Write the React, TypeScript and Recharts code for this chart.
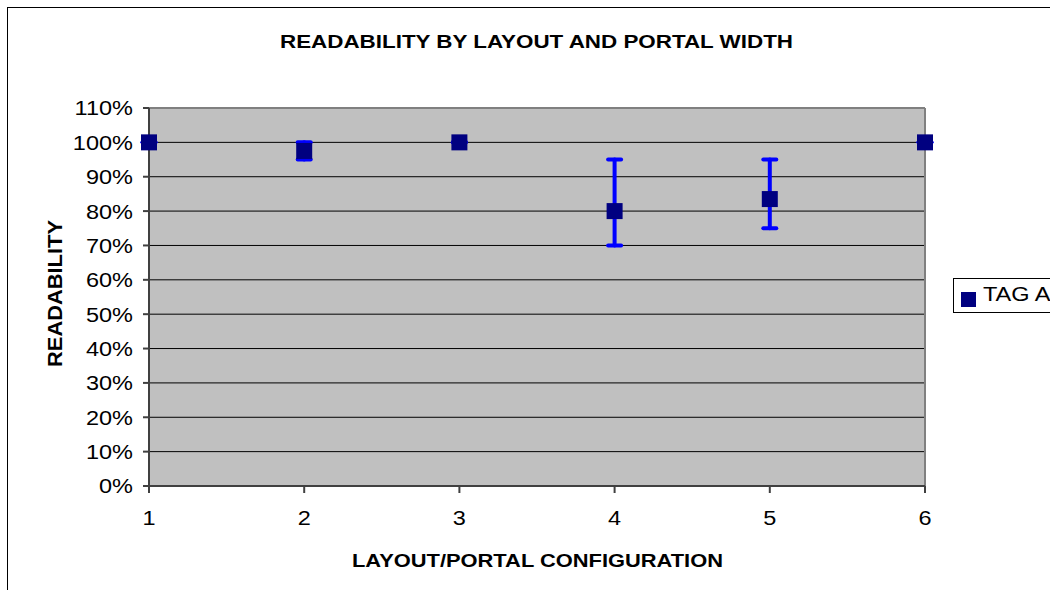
import React from 'react';
import {
  ScatterChart,
  Scatter,
  XAxis,
  YAxis,
  CartesianGrid,
  ErrorBar,
  ReferenceLine,
} from 'recharts';

const configurations = [1, 2, 3, 4, 5, 6];
const readability = [100, 97.5, 100, 80, 83.5, 100];
const errorLow = [0, 2.5, 0, 10, 8.5, 0];
const errorHigh = [0, 2.5, 0, 15, 11.5, 0];
const yTicks = [0, 10, 20, 30, 40, 50, 60, 70, 80, 90, 100, 110];
const seriesName = 'TAG A';
const title = 'READABILITY BY LAYOUT AND PORTAL WIDTH';
const xTitle = 'LAYOUT/PORTAL CONFIGURATION';
const yTitle = 'READABILITY';

const data = configurations.map((c, i) => ({
  x: c,
  y: readability[i],
  err: [errorLow[i], errorHigh[i]],
}));

const FONT = '"Liberation Sans", Arial, sans-serif';
const STRETCH = 1.12;

const Square = (props: any) => {
  const { cx, cy } = props;
  if (cx == null || cy == null) return null;
  return <rect x={cx - 8} y={cy - 8} width={16} height={16} fill="#000080" />;
};

const XTick = (props: any) => {
  const { x, y, payload } = props;
  return (
    <text
      transform={`translate(${x},${y}) scale(${STRETCH},1)`}
      x={0}
      y={0}
      dy="0.71em"
      textAnchor="middle"
      fontFamily={FONT}
      fontSize={21}
      fill="#000"
    >
      {payload.value}
    </text>
  );
};

const YTick = (props: any) => {
  const { x, y, payload } = props;
  return (
    <text
      transform={`translate(${x},${y}) scale(${STRETCH},1)`}
      x={0}
      y={0}
      dy="0.355em"
      textAnchor="end"
      fontFamily={FONT}
      fontSize={21}
      fill="#000"
    >
      {`${payload.value}%`}
    </text>
  );
};

export default function App() {
  return (
    <div
      style={{
        position: 'fixed',
        left: 0,
        top: 0,
        width: 1050,
        height: 590,
        overflow: 'hidden',
        background: '#fff',
      }}
    >
      <div
        style={{
          position: 'absolute',
          left: 7,
          top: 7,
          width: 1100,
          height: 620,
          border: '1px solid #000',
        }}
      />
      <div style={{ position: 'absolute', left: 8, top: 8 }}>
        <ScatterChart
          width={1042}
          height={582}
          margin={{ top: 100, right: 125, left: 81, bottom: 64 }}
        >
          <CartesianGrid
            fill="#C0C0C0"
            stroke="#000"
            strokeWidth={1}
            vertical={false}
          />
          <XAxis
            type="number"
            dataKey="x"
            domain={[1, 6]}
            ticks={configurations}
            height={40}
            stroke="#404040"
            strokeWidth={2}
            tickSize={7}
            tickMargin={17}
            tick={<XTick />}
          />
          <YAxis
            type="number"
            dataKey="y"
            domain={[0, 110]}
            ticks={yTicks}
            width={60}
            stroke="#404040"
            strokeWidth={2}
            tickSize={6}
            tickMargin={10}
            tick={<YTick />}
            interval={0}
          />
          <ReferenceLine y={110} stroke="#808080" strokeWidth={2} />
          <ReferenceLine x={6} stroke="#808080" strokeWidth={2} />
          <Scatter
            name={seriesName}
            data={data}
            shape={Square}
            isAnimationActive={false}
          >
            <ErrorBar
              dataKey="err"
              direction="y"
              width={6.5}
              stroke="#0000FF"
              strokeWidth={4}
              strokeLinecap="round"
              isAnimationActive={false}
            />
          </Scatter>
        </ScatterChart>
      </div>
      <svg
        width={1050}
        height={590}
        style={{ position: 'absolute', left: 0, top: 0, pointerEvents: 'none' }}
      >
        <text
          x={536.5}
          y={48}
          textAnchor="middle"
          fontFamily={FONT}
          fontWeight="bold"
          fontSize={18}
          textLength={513}
          lengthAdjust="spacingAndGlyphs"
          fill="#000"
        >
          {title}
        </text>
        <text
          x={537.5}
          y={567}
          textAnchor="middle"
          fontFamily={FONT}
          fontWeight="bold"
          fontSize={19}
          textLength={371}
          lengthAdjust="spacingAndGlyphs"
          fill="#000"
        >
          {xTitle}
        </text>
        <text
          x={62}
          y={293.5}
          transform="rotate(-90 62 293.5)"
          textAnchor="middle"
          fontFamily={FONT}
          fontWeight="bold"
          fontSize={21}
          textLength={147}
          lengthAdjust="spacingAndGlyphs"
          fill="#000"
        >
          {yTitle}
        </text>
      </svg>
      <div
        style={{
          position: 'absolute',
          left: 953,
          top: 278,
          width: 150,
          height: 35,
          border: '1px solid #000',
          background: '#fff',
          boxSizing: 'border-box',
        }}
      >
        <div
          style={{
            position: 'absolute',
            left: 7,
            top: 13,
            width: 15,
            height: 15,
            background: '#000080',
          }}
        />
        <div
          style={{
            position: 'absolute',
            left: 29,
            top: 3,
            fontFamily: FONT,
            fontSize: 21,
            lineHeight: '24px',
            color: '#000',
            whiteSpace: 'nowrap',
            transform: `scaleX(${STRETCH})`,
            transformOrigin: 'left center',
          }}
        >
          {seriesName}
        </div>
      </div>
    </div>
  );
}
